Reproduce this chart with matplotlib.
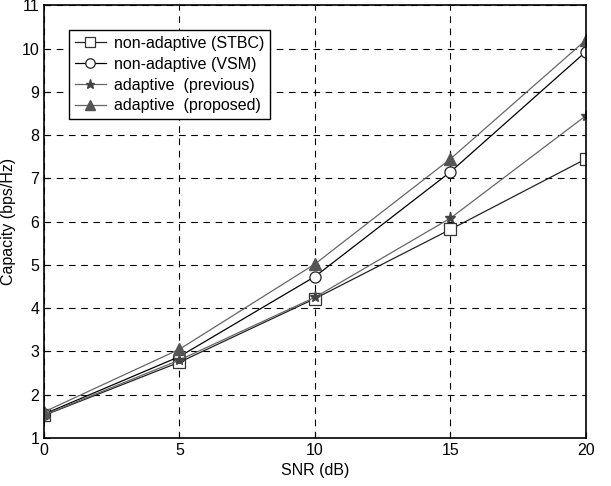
import numpy as np
import matplotlib.pyplot as plt

plt.rcParams['font.family'] = ['Liberation Sans', 'DejaVu Sans']

snr = [0, 5, 10, 15, 20]
stbc = [1.52, 2.75, 4.22, 5.82, 7.45]
vsm = [1.55, 2.88, 4.73, 7.15, 9.93]
previous = [1.53, 2.80, 4.25, 6.08, 8.45]
proposed = [1.60, 3.05, 5.02, 7.45, 10.20]

fig = plt.figure(figsize=(6.11, 4.86), dpi=100)
ax = fig.add_axes([0.072, 0.099, 0.887, 0.89])

ax.plot(snr, stbc, '-s', color='#222222', lw=0.9, ms=8, mfc='white', mec='#333333', mew=0.9,
        label='non-adaptive (STBC)')
ax.plot(snr, vsm, '-o', color='black', lw=0.9, ms=8, mfc='white', mec='#222222', mew=0.9,
        label='non-adaptive (VSM)')
ax.plot(snr, previous, '-*', color='#666666', lw=0.9, ms=8, mfc='#444444', mec='#444444',
        label='adaptive  (previous)')
ax.plot(snr, proposed, '-^', color='#666666', lw=0.9, ms=9, mfc='#555555', mec='#555555',
        label='adaptive  (proposed)')

ax.set_xlim(0, 20)
ax.set_ylim(1, 11)
ax.set_xticks([0, 5, 10, 15, 20])
ax.set_yticks(range(1, 12))
ax.grid(True, color='black', linestyle=(0, (6, 5)), linewidth=0.8)
ax.tick_params(direction='in', labelsize=11.5, length=4)
for s in ax.spines.values():
    s.set_linewidth(1.2)
ax.set_xlabel('SNR (dB)', fontsize=11.5)
ax.set_ylabel('Capacity (bps/Hz)', fontsize=11.5)

leg = ax.legend(loc='upper left', bbox_to_anchor=(0.046, 0.942), fontsize=11.5, frameon=True,
                fancybox=False, edgecolor='black', framealpha=1, handlelength=1.95,
                borderpad=0.35, labelspacing=0.36, handletextpad=0.55, borderaxespad=0,
                markerscale=0.85)
leg.get_frame().set_linewidth(1.0)

fig.savefig('out.png', dpi=100)
